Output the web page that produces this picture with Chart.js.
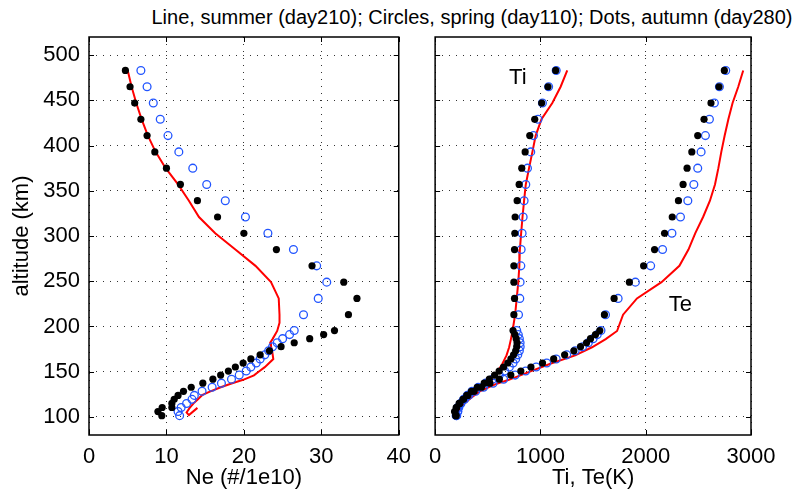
<!DOCTYPE html>
<html>
<head>
<meta charset="utf-8">
<script src="https://cdn.jsdelivr.net/npm/chart.js@4"></script>
<style>
  html, body { margin: 0; padding: 0; background: #fff; overflow: hidden; }
  body { width: 812px; height: 495px; position: relative; font-family: "Liberation Sans", Arial, sans-serif; }
  #title { position: absolute; top: 6px; left: 472px; transform: translateX(-50%); white-space: nowrap;
           font-size: 20px; line-height: 22px; color: #000; }
  canvas { position: absolute; top: 0; }
  #neChart { left: 0; }
  #tChart { left: 420px; }
</style>
</head>
<body>
<div id="title">Line, summer (day210); Circles, spring (day110); Dots, autumn (day280)</div>
<canvas id="neChart" width="420" height="495"></canvas>
<canvas id="tChart" width="392" height="495"></canvas>
<script>
const altTicks = [100, 150, 200, 250, 300, 350, 400, 450, 500];
const neTicks = [0, 10, 20, 30, 40];
const tTicks = [0, 1000, 2000, 3000];

// altitudes (km) of the spring / autumn samples
const altitude = [483, 465, 447, 429, 411, 393, 375, 357, 339, 321, 303, 285, 267, 249, 231, 213,
  195.5, 191, 186.5, 182, 177.6, 173.1, 168.6, 164.1, 159.6, 155.2, 150.7, 146.2, 141.7, 137.3,
  132.8, 128.3, 123.8, 119.4, 114.9, 110.4, 105.9, 101.4];
// autumn Ne has two samples at 110.4 km
const altNeAutumn = [483, 465, 447, 429, 411, 393, 375, 357, 339, 321, 303, 285, 267, 249, 231, 213,
  195.5, 191, 186.5, 182, 177.6, 173.1, 168.6, 164.1, 159.6, 155.2, 150.7, 146.2, 141.7, 137.3,
  132.8, 128.3, 123.8, 119.4, 114.9, 110.4, 110.4, 105.9, 101.4];

// electron density, #/1e10
const neSpring = [6.7, 7.5, 8.3, 9.2, 10.2, 11.6, 13.4, 15.2, 17.6, 20.2, 23.1, 26.4, 29.4, 30.7, 29.6, 27.7,
  26.5, 25.9, 25.0, 24.3, 23.7, 23.2, 22.7, 22.1, 21.6, 20.9, 20.3, 19.4, 18.4, 17.1,
  15.9, 14.6, 13.6, 13.3, 12.6, 11.9, 11.5, 11.7];
const neAutumn = [4.7, 5.3, 5.9, 6.7, 7.5, 8.5, 10.0, 11.8, 14.0, 16.6, 20.0, 24.2, 28.8, 32.9, 34.6, 33.5,
  31.7, 30.3, 28.5, 26.5, 24.8, 23.3, 22.1, 20.9, 19.9, 18.9, 18.0, 17.0, 16.0, 14.7,
  13.2, 12.2, 11.5, 11.0, 10.7, 10.7, 9.45, 8.9, 9.4];

// ion temperature, K
const tiSpring = [1150, 1078, 1019, 977, 934, 908, 877, 861, 845, 836, 826, 817, 814, 807, 804, 792,
  775, 790, 800, 807, 808, 800, 785, 765, 740, 705, 660, 610, 545, 480,
  410, 350, 305, 270, 240, 215, 215, 200];
const tiAutumn = [1145, 1072, 1012, 946, 899, 855, 823, 798, 779, 760, 757, 754, 748, 748, 754, 748,
  740, 757, 770, 778, 775, 765, 745, 720, 690, 650, 608, 565, 515, 466,
  400, 345, 300, 265, 228, 200, 185, 195];

// electron temperature, K
const teSpring = [2760, 2700, 2652, 2605, 2567, 2526, 2494, 2457, 2400, 2330, 2249, 2160, 2047, 1902, 1738, 1618,
  1575, 1540, 1500, 1455, 1400, 1330, 1250, 1150, 1060, 960, 860, 760, 650, 550,
  460, 385, 320, 280, 245, 225, 215, 205];
const teAutumn = [2747, 2696, 2620, 2554, 2494, 2438, 2393, 2355, 2311, 2252, 2179, 2084, 1980, 1845, 1700, 1608,
  1564, 1523, 1476, 1438, 1381, 1318, 1230, 1126, 1020, 910, 814, 719, 610, 520,
  440, 370, 310, 270, 235, 205, 190, 200];

// summer profiles (drawn as lines)
const altSummerNe = [483, 465, 447, 429, 411, 393, 375, 357, 339, 321, 303, 285, 267, 249, 231, 213, 204,
  195, 186, 182, 178, 173, 164, 159, 155, 150, 146, 141, 137, 133, 128, 124, 119, 115, 110, 105, 102, 110];
const neSummer = [5.0, 5.5, 6.1, 6.8, 7.6, 8.6, 9.9, 11.5, 12.9, 14.2, 16.3, 18.9, 21.5, 23.5, 24.5, 24.6, 24.6,
  24.3, 23.7, 23.4, 23.5, 23.65, 23.8, 23.2, 22.7, 21.9, 21.3, 19.9, 18.4, 17.1, 15.6, 14.6, 14.0, 13.5, 13.0, 12.6, 12.9, 14.0];

const altSummerT = [483, 465, 447, 429, 411, 393, 375, 357, 339, 321, 303, 285, 267, 249, 231, 213,
  195, 186, 177, 168, 159, 150, 141, 136, 128, 121, 114, 106, 102];
const tiSummer = [1255, 1192, 1113, 1010, 955, 924, 892, 861, 845, 830, 817, 805, 800, 790, 775, 760,
  735, 720, 703, 678, 640, 592, 530, 466, 388, 309, 246, 215, 205];
const teSummer = [2926, 2879, 2825, 2785, 2750, 2718, 2690, 2658, 2610, 2545, 2470, 2406, 2320, 2150, 1917, 1785,
  1728, 1620, 1490, 1330, 1100, 900, 700, 570, 420, 340, 270, 220, 205];

const tempLabels = [
  { text: 'Ti', x: 785, y: 475 },
  { text: 'Te', x: 2330, y: 224 },
];

const FONT = '"Liberation Sans", Arial, sans-serif';
const RED = '#ff0000';
const BLUE = '#2255ff';

const pts = (xs, ys) => xs.map((x, i) => ({ x, y: ys[i] }));

const dots = (data) => ({
  data, showLine: false, order: 1,
  pointRadius: 3.6, pointBackgroundColor: '#000', pointBorderColor: '#000', pointBorderWidth: 0,
});
const circles = (data) => ({
  data, showLine: false, order: 2,
  pointRadius: 3.9, pointBackgroundColor: 'rgba(0,0,0,0)', pointBorderColor: BLUE, pointBorderWidth: 1.3,
});
const line = (data) => ({
  data, showLine: true, order: 3, pointRadius: 0,
  borderColor: RED, borderWidth: 2, tension: 0, fill: false,
});

// box round the plot area with short inward ticks on all four sides
const frame = {
  id: 'frame',
  afterDatasetsDraw(chart) {
    const { ctx, chartArea: a, scales } = chart;
    ctx.save();
    ctx.strokeStyle = '#000';
    ctx.lineWidth = 1;
    ctx.beginPath();
    scales.x.ticks.forEach(t => {
      const px = Math.round(scales.x.getPixelForValue(t.value)) + 0.5;
      ctx.moveTo(px, a.bottom); ctx.lineTo(px, a.bottom - 5);
      ctx.moveTo(px, a.top); ctx.lineTo(px, a.top + 5);
    });
    scales.y.ticks.forEach(t => {
      const py = Math.round(scales.y.getPixelForValue(t.value)) + 0.5;
      ctx.moveTo(a.left, py); ctx.lineTo(a.left + 5, py);
      ctx.moveTo(a.right, py); ctx.lineTo(a.right - 5, py);
    });
    ctx.stroke();
    ctx.lineWidth = 1.5;
    ctx.strokeRect(a.left, a.top, a.right - a.left, a.bottom - a.top);
    ctx.restore();
  },
};

// text tags placed in data units
const tags = {
  id: 'tags',
  afterDatasetsDraw(chart, args, opts) {
    if (!opts.items) return;
    const { ctx, scales } = chart;
    ctx.save();
    ctx.font = `22px ${FONT}`;
    ctx.fillStyle = '#000';
    ctx.textAlign = 'center';
    ctx.textBaseline = 'middle';
    opts.items.forEach(it => ctx.fillText(it.text, scales.x.getPixelForValue(it.x), scales.y.getPixelForValue(it.y)));
    ctx.restore();
  },
};

const gridOpts = { color: '#333', lineWidth: 1, drawTicks: false };
const borderOpts = { display: false, dash: [1, 6] };

function buildOptions({ xMin, xMax, xTicks, xTitle, yAxisWidth, showYLabels, padLeft, padRight }) {
  return {
    responsive: false,
    animation: false,
    events: [],
    layout: { padding: { left: padLeft, right: padRight, top: 37, bottom: 0 } },
    plugins: { legend: { display: false }, tooltip: { enabled: false } },
    scales: {
      x: {
        type: 'linear', min: xMin, max: xMax,
        afterBuildTicks: s => { s.ticks = xTicks.map(v => ({ value: v })); },
        afterFit: s => { s.height = 60; },
        grid: gridOpts, border: borderOpts,
        ticks: { color: '#000', padding: 9, font: { family: FONT, size: 22 }, maxRotation: 0, callback: v => String(v) },
        title: { display: true, text: xTitle, color: '#000', font: { family: FONT, size: 22 }, padding: { top: 0, bottom: 4 } },
      },
      y: {
        type: 'linear', min: 80, max: 520,
        afterBuildTicks: s => { s.ticks = altTicks.map(v => ({ value: v })); },
        afterFit: s => { s.width = yAxisWidth; },
        grid: gridOpts, border: borderOpts,
        ticks: { display: showYLabels, color: '#000', padding: 9, font: { family: FONT, size: 22 }, callback: v => String(v) },
        title: { display: showYLabels, text: 'altitude (km)', color: '#000', font: { family: FONT, size: 22 }, padding: { top: 9, bottom: 0 } },
      },
    },
  };
}

new Chart(document.getElementById('neChart'), {
  type: 'scatter',
  data: {
    datasets: [
      dots(pts(neAutumn, altNeAutumn)),
      circles(pts(neSpring, altitude)),
      line(pts(neSummer, altSummerNe)),
    ],
  },
  options: buildOptions({ xMin: 0, xMax: 40, xTicks: neTicks, xTitle: 'Ne (#/1e10)', yAxisWidth: 89, showYLabels: true, padLeft: 0, padRight: 13 }),
  plugins: [frame],
});

const tOpts = buildOptions({ xMin: 0, xMax: 3000, xTicks: tTicks, xTitle: 'Ti, Te(K)', yAxisWidth: 0, showYLabels: false, padLeft: 14, padRight: 61 });
tOpts.plugins.tags = { items: tempLabels };

new Chart(document.getElementById('tChart'), {
  type: 'scatter',
  data: {
    datasets: [
      dots(pts(tiAutumn, altitude)),
      dots(pts(teAutumn, altitude)),
      circles(pts(tiSpring, altitude)),
      circles(pts(teSpring, altitude)),
      line(pts(tiSummer, altSummerT)),
      line(pts(teSummer, altSummerT)),
    ],
  },
  options: tOpts,
  plugins: [frame, tags],
});
</script>
</body>
</html>
